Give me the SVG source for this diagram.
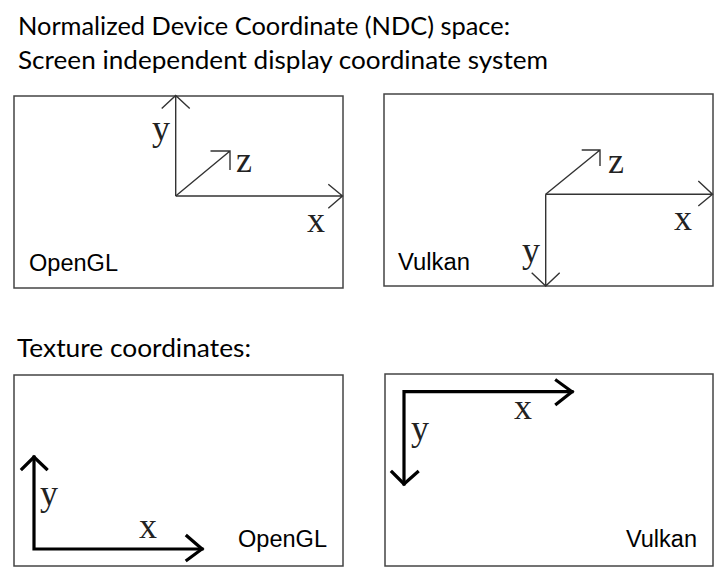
<svg xmlns="http://www.w3.org/2000/svg" width="727" height="584" viewBox="0 0 727 584">
<style>
.hdr{font-family:Lato,"Open Sans",sans-serif;font-size:25px;fill:#000}
.lbl{font-family:"Liberation Sans",Arial,sans-serif;font-size:23px;fill:#000}
.ax{font-family:"Liberation Serif","Times New Roman",serif;font-size:36px;fill:#222}
.box{fill:#fff;stroke:#444;stroke-width:1.5}
.thin{fill:none;stroke:#333;stroke-width:1.4}
.thick{fill:none;stroke:#000;stroke-width:3.2;stroke-linecap:square}
</style>
<rect width="727" height="584" fill="#fff"/>
<text class="hdr" x="18" y="34.5" textLength="492" lengthAdjust="spacingAndGlyphs">Normalized Device Coordinate (NDC) space:</text>
<text class="hdr" x="18" y="69" textLength="530" lengthAdjust="spacingAndGlyphs">Screen independent display coordinate system</text>
<text class="hdr" x="17" y="357.3" textLength="234" lengthAdjust="spacingAndGlyphs">Texture coordinates:</text>

<g id="ndc-opengl">
<rect class="box" x="14" y="96" width="329" height="192"/>
<text class="lbl" x="29" y="271" textLength="89" lengthAdjust="spacingAndGlyphs">OpenGL</text>
<text class="ax" x="152" y="140">y</text>
<text class="ax" x="236" y="172">z</text>
<text class="ax" x="307" y="232">x</text>
</g>
<g id="ndc-vulkan">
<rect class="box" x="384" y="94" width="329" height="192"/>
<text class="lbl" x="398" y="270" textLength="72" lengthAdjust="spacingAndGlyphs">Vulkan</text>
<text class="ax" x="608" y="173">z</text>
<text class="ax" x="674" y="230">x</text>
<text class="ax" x="522" y="262">y</text>
</g>
<g id="tex-opengl">
<rect class="box" x="14" y="375" width="329" height="191"/>
<text class="lbl" x="238" y="547" textLength="89" lengthAdjust="spacingAndGlyphs">OpenGL</text>
<text class="ax" x="40" y="505">y</text>
<text class="ax" x="139" y="538">x</text>
</g>
<g id="tex-vulkan">
<rect class="box" x="385" y="374" width="328" height="192"/>
<text class="lbl" x="626" y="547" textLength="71" lengthAdjust="spacingAndGlyphs">Vulkan</text>
<text class="ax" x="514" y="419">x</text>
<text class="ax" x="411" y="440">y</text>
</g>

<g id="connectors">
<path class="thin" d="M175.7 196 V95.5 M161.7 108.5 L175.7 95.5 L189.7 108.5"/>
<path class="thin" d="M175.7 196 H342.5 M328.3 184.3 L342.5 196 L328.3 208.3"/>
<path class="thin" d="M175.7 196 L230 151 M210.5 151 H230 V170"/>
<path class="thin" d="M545.7 194.3 H712.5 M698.3 181 L712.5 194.3 L698.3 206"/>
<path class="thin" d="M545.7 194.3 V286 M531.7 272.7 L545.7 286 L559.7 272.7"/>
<path class="thin" d="M545.7 194.3 L600 150 M581.7 150 H600 V166"/>
<path class="thick" d="M34 457 V549 H202"/>
<path class="thick" d="M22 469 L34 457 L46.5 469 M187 536 L202 549 L187 560"/>
<path class="thick" d="M572 391.7 H404 V484"/>
<path class="thick" d="M556.5 380.5 L572 391.7 L556.5 404 M392 472 L404 484 L417.5 472"/>
</g>
</svg>
